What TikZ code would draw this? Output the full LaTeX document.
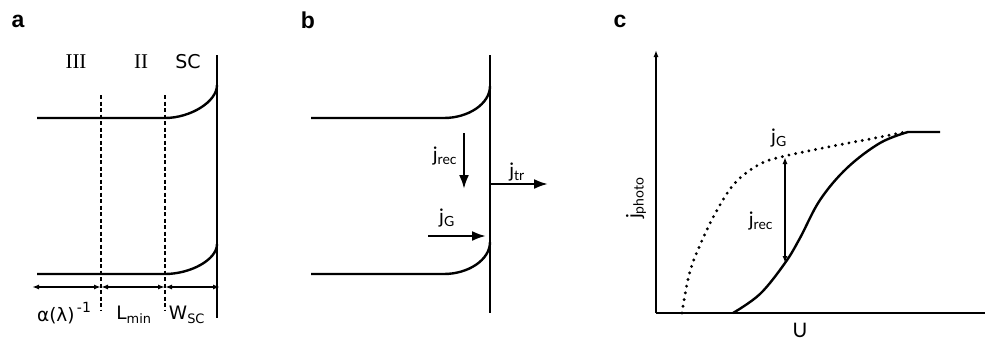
\documentclass[tikz,border=0pt]{standalone}
\usepackage{fontspec}
\setmainfont{DejaVu Sans}
\newfontfamily\serifface{Liberation Serif}
\newfontfamily\thinface{Lato}
\newfontfamily\headface{Liberation Sans}
\usetikzlibrary{arrows.meta,positioning}

\begin{document}
\begin{tikzpicture}[
    x=1pt,y=-1pt,
    band/.style={line width=2.4pt},
    wall/.style={line width=2.6pt},
    divider/.style={line width=2pt,dash pattern=on 4pt off 2.5pt},
    dim/.style={line width=1.6pt,{Latex[length=7pt,width=5pt]}-{Latex[length=7pt,width=5pt]}},
    flux/.style={line width=2.4pt,-{Latex[length=14pt,width=10pt]}},
    axis/.style={line width=2.4pt,-{Latex[length=7pt,width=5pt]}},
    dotcurve/.style={line width=3.2pt,line cap=round,dash pattern=on 0pt off 6.8pt},
    panel/.style={font=\headface\bfseries\fontsize{23}{25}\selectfont},
    region/.style={font=\serifface\fontsize{21}{23}\selectfont},
    dimlabel/.style={font=\fontsize{18.5}{20}\selectfont},
    cur/.style={font=\thinface\fontsize{20}{22}\selectfont,inner sep=1pt}
]
    \useasboundingbox (0,0) rectangle (985,340);

    % panel a
    \node[panel] (la) at (18,21) {a};
    \node[region] (r3) at (76,62) {III};
    \node[region] (r2) at (141,62) {II};
    \node[dimlabel,font=\fontsize{19}{21}\selectfont] (sc) at (188,62) {SC};

    \coordinate (aTop) at (217,55);
    \coordinate (aBot) at (217,318);
    \coordinate (aU0) at (37,118);
    \coordinate (aUk) at (165,118);
    \coordinate (aUe) at (217,85);
    \coordinate (aL0) at (37,274);
    \coordinate (aLk) at (165,274);
    \coordinate (aLe) at (217,244);
    \coordinate (d1t) at (101,95);
    \coordinate (d1b) at (101,310);
    \coordinate (d2t) at (165,95);
    \coordinate (d2b) at (165,310);
    \coordinate (m0) at (32,287);
    \coordinate (m1) at (101,287);
    \coordinate (m2) at (165,287);
    \coordinate (m3) at (220,287);

    \draw[wall] (aTop) -- (aBot);
    \draw[band] (aU0) -- (aUk) .. controls (190,118) and (217,102) .. (aUe);
    \draw[band] (aL0) -- (aLk) .. controls (190,274) and (217,260) .. (aLe);
    \draw[divider] (d1t) -- (d1b);
    \draw[divider] (d2t) -- (d2b);
    \draw[dim] (m0) -- (m1);
    \draw[dim] (m1) -- (m2);
    \draw[dim] (m2) -- (m3);

    \node[dimlabel] (alpha) at (64,313) {α(λ)\raisebox{9pt}{\fontsize{14}{15}\selectfont\,-1}};
    \node[dimlabel] (lmin) at (134,315) {L\textsubscript{min}};
    \node[dimlabel] (wsc) at (187,315) {W\textsubscript{SC}};

    % panel b
    \node[panel] (lb) at (308,20) {b};

    \coordinate (bTop) at (490,55);
    \coordinate (bBot) at (490,313);
    \coordinate (bU0) at (311,118);
    \coordinate (bUk) at (444,118);
    \coordinate (bUe) at (490,86);
    \coordinate (bL0) at (311,274);
    \coordinate (bLk) at (444,274);
    \coordinate (bLe) at (490,242);
    \coordinate (recA) at (464,133);
    \coordinate (recB) at (464,189);
    \coordinate (trA) at (490,184);
    \coordinate (trB) at (548,184);
    \coordinate (genA) at (428,236);
    \coordinate (genB) at (486,236);

    \draw[wall] (bTop) -- (bBot);
    \draw[band] (bU0) -- (bUk) .. controls (468,118) and (490,104) .. (bUe);
    \draw[band] (bL0) -- (bLk) .. controls (468,274) and (490,260) .. (bLe);
    \draw[flux] (recA) -- (recB);
    \draw[flux] (trA) -- (trB);
    \draw[flux] (genA) -- (genB);

    \node[cur] (jrec) at (445,156) {j\textsubscript{rec}};
    \node[cur] (jtr) at (517,172) {j\textsubscript{tr}};
    \node[cur] (jg) at (447,218) {j\textsubscript{G}};

    % panel c
    \node[panel] (lc) at (620,21) {c};

    \coordinate (org) at (656,313);
    \coordinate (yEnd) at (656,50);
    \coordinate (xEnd) at (990,313);
    \coordinate (gTop) at (785,157);
    \coordinate (gBot) at (785,263);

    \draw[line width=2.4pt] (org) -- (xEnd);
    \draw[axis] (org) -- (yEnd);
    \draw[dotcurve] plot[smooth,tension=0.6] coordinates
        {(682,313) (689,275) (700,245) (716,212) (735,183) (760,164) (785,156) (833,146) (870,139) (905,132)};
    \draw[line width=2.4pt] plot[smooth,tension=0.6] coordinates
        {(733,313) (760,294) (785,263) (800,238) (820,200) (847,168) (880,143) (908,132)} -- (940,132);
    \draw[line width=2pt,{Latex[length=7pt,width=5pt]}-{Latex[length=7pt,width=5pt]}] (gTop) -- (gBot);

    \node[cur] (jg2) at (779,138) {j\textsubscript{G}};
    \node[cur] (jrec2) at (761,221) {j\textsubscript{rec}};
    \node[cur,rotate=90] (jphoto) at (636,198) {j\textsubscript{photo}};
    \node[cur] (uu) at (800,330) {U};
\end{tikzpicture}
\end{document}
